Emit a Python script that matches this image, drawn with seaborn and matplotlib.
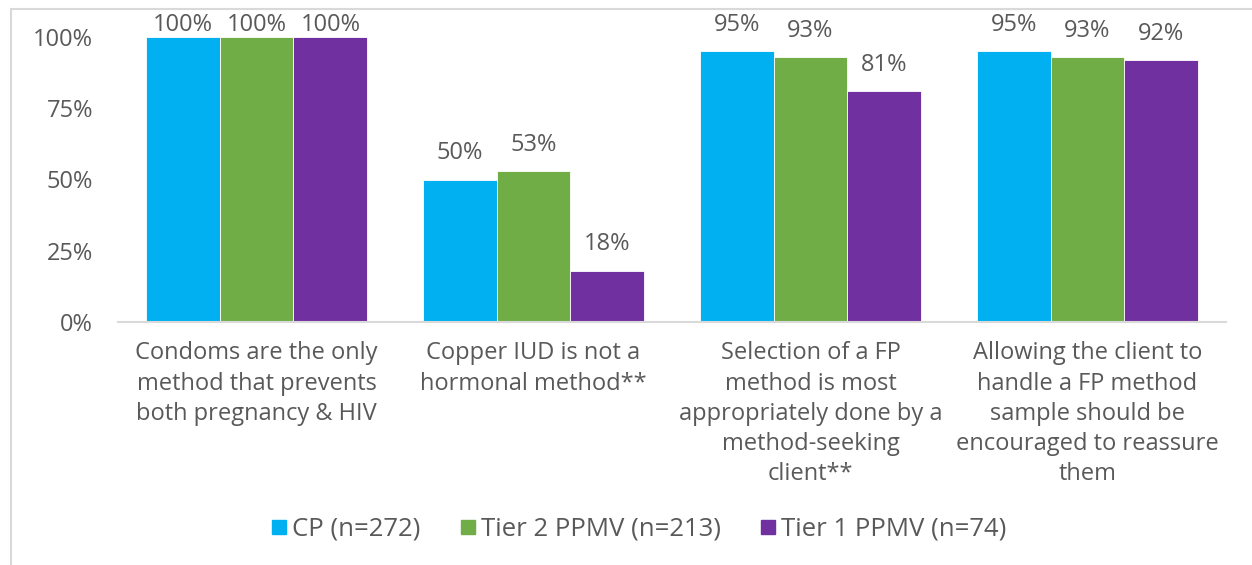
import pandas as pd
import matplotlib.pyplot as plt
import matplotlib.patches as mpatches
from matplotlib.lines import Line2D
import seaborn as sns

## data
statements = ['Condoms are the only\nmethod that prevents\nboth pregnancy & HIV',
              'Copper IUD is not a\nhormonal method**',
              'Selection of a FP\nmethod is most\nappropriately done by a\nmethod-seeking\nclient**',
              'Allowing the client to\nhandle a FP method\nsample should be\nencouraged to reassure\nthem']
groups = ['CP (n=272)', 'Tier 2 PPMV (n=213)', 'Tier 1 PPMV (n=74)']
cp = [100, 50, 95, 95]
tier2 = [100, 53, 93, 93]
tier1 = [100, 18, 81, 92]
colors = ['#00B0F0', '#70AD47', '#7030A0']

df = pd.DataFrame({
    'statement': statements * 3,
    'group': [g for g in groups for _ in statements],
    'pct': cp + tier2 + tier1,
})

sns.set_style('white')
plt.rcParams['font.family'] = ['Open Sans', 'DejaVu Sans']
grey = '#595959'
fs = 17

fig = plt.figure(figsize=(12.52, 5.65), dpi=100)
W, H = 1252, 565
ax = fig.add_axes([118 / W, 1 - 322 / H, (1226 - 118) / W, (322 - 37) / H])

sns.barplot(data=df, x='statement', y='pct', hue='group', palette=colors,
            order=statements, hue_order=groups, width=0.8, saturation=1,
            edgecolor='white', linewidth=0.6, ax=ax, legend=False)

## data labels, kept inside the chart area like Excel does
for cont in ax.containers:
    for bar in cont:
        v = bar.get_height()
        ax.text(bar.get_x() + bar.get_width() / 2, min(v + 5, 100), f'{v:.0f}%',
                ha='center', va='bottom', fontsize=fs, color=grey)

ax.set_ylim(0, 100)
ax.set_yticks([0, 25, 50, 75, 100])
ax.set_yticklabels([f'{v}%' for v in [0, 25, 50, 75, 100]])
ax.set(xlabel='', ylabel='')
ax.tick_params(axis='both', length=0, labelsize=fs, labelcolor=grey)
ax.tick_params(axis='x', pad=14)
ax.tick_params(axis='y', pad=18)
for lab in ax.get_xticklabels():
    lab.set_linespacing(1.34)
sns.despine(ax=ax, left=True)
ax.spines['bottom'].set_color('#D9D9D9')
ax.spines['bottom'].set_linewidth(1.5)

## legend
handles = [Line2D([], [], marker='s', linestyle='', markersize=10, color=c) for c in colors]
fig.legend(handles, groups, loc='center', bbox_to_anchor=(638 / W, 1 - 529 / H),
           ncol=3, frameon=False, handlelength=0.75, handletextpad=0.15,
           columnspacing=1.45, fontsize=18.5, labelcolor=grey)

## chart area frame (cropped screenshot)
fig.patches.append(mpatches.Rectangle((11 / W, -0.1), 1.2, 1 - 9 / H + 0.1,
                                      transform=fig.transFigure, fill=False,
                                      edgecolor='#D9D9D9', linewidth=1.5))

plt.savefig('out.png', dpi=100)
